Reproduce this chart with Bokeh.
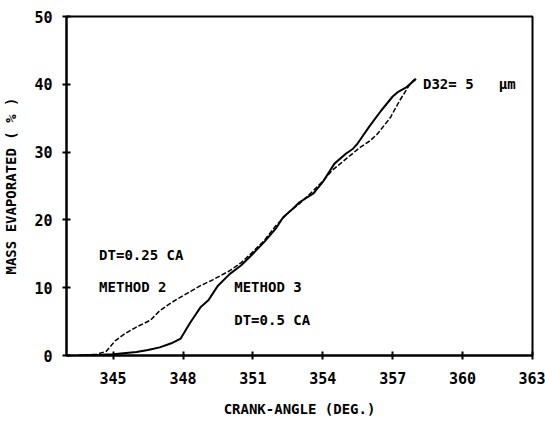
from bokeh.plotting import figure
from bokeh.models import Range1d, FixedTicker, Label
from bokeh.embed import file_html
from bokeh.resources import INLINE

# Method 3 (DT=0.5 CA), solid
m3_x = [343.5, 344.5, 345.0, 346.0, 346.5, 347.0, 347.5, 347.9, 348.3, 348.75, 349.1, 349.5,
        350.0, 350.5, 351.0, 351.5, 352.0, 352.3, 352.7, 353.0, 353.6, 354.0, 354.5, 355.0,
        355.3, 355.5, 356.0, 356.5, 357.0, 357.2, 357.6, 358.0]
m3_y = [0.0, 0.1, 0.2, 0.5, 0.8, 1.2, 1.8, 2.5, 4.8, 7.1, 8.2, 10.3,
        12.0, 13.3, 15.0, 16.8, 18.8, 20.4, 21.6, 22.6, 23.9, 25.6, 28.3, 29.8,
        30.5, 31.3, 33.8, 36.1, 38.2, 38.8, 39.6, 40.8]

# Method 2 (DT=0.25 CA), dashed
m2_x = [343.5, 344.3, 344.7, 345.1, 345.5, 346.0, 346.6, 347.0, 347.5, 347.9, 348.3, 348.75,
        349.3, 350.0, 350.5, 351.0, 351.5, 352.0, 352.5, 353.0, 353.5, 354.0, 354.4, 355.0,
        355.6, 356.0, 356.35, 356.9, 357.3, 357.7, 358.0]
m2_y = [0.0, 0.2, 0.6, 2.2, 3.2, 4.2, 5.2, 6.6, 7.8, 8.6, 9.4, 10.3,
        11.2, 12.5, 13.7, 15.3, 17.0, 19.2, 21.0, 22.4, 24.0, 25.7, 27.3, 29.0,
        30.7, 31.6, 32.7, 35.1, 37.6, 39.8, 41.0]

x_ticks = [345, 348, 351, 354, 357, 360, 363]
y_ticks = [0, 10, 20, 30, 40, 50]

FONT = "DejaVu Sans Mono"

p = figure(width=545, height=425, output_backend="svg", toolbar_location=None,
           x_range=Range1d(343, 363), y_range=Range1d(0, 50),
           min_border_left=66, min_border_right=13, min_border_top=16, min_border_bottom=70)
p.xgrid.visible = False
p.ygrid.visible = False
p.outline_line_color = "black"
p.outline_line_width = 2

for ax in (p.xaxis[0], p.yaxis[0]):
    ax.axis_line_width = 2
    ax.major_tick_line_width = 2
    ax.major_tick_in = 4
    ax.major_tick_out = 4
    ax.minor_tick_line_color = None
    ax.major_label_text_font = FONT
    ax.major_label_text_font_style = "bold"
    ax.major_label_text_font_size = "15px"
    ax.major_label_text_color = "black"
    ax.axis_label_text_font = FONT
    ax.axis_label_text_font_style = "bold"
    ax.axis_label_text_font_size = "14px"
    ax.axis_label_text_color = "black"

p.xaxis.ticker = FixedTicker(ticks=x_ticks)
p.yaxis.ticker = FixedTicker(ticks=y_ticks)
p.xaxis.major_label_standoff = 12
p.yaxis.major_label_standoff = 10
p.xaxis.axis_label = "CRANK-ANGLE (DEG.)"
p.yaxis.axis_label = "MASS EVAPORATED ( % )"
p.xaxis.axis_label_standoff = 14
p.yaxis.axis_label_standoff = 12

p.line(m3_x, m3_y, line_color="black", line_width=2)
p.line(m2_x, m2_y, line_color="black", line_width=1.5, line_dash="5 2")

labels = [
    (344.4, 14.8, "DT=0.25 CA"),
    (344.4, 10.1, "METHOD 2"),
    (350.2, 10.1, "METHOD 3"),
    (350.2, 5.2, "DT=0.5 CA"),
    (358.3, 40.0, "D32=\u00a05\u00a0\u00a0\u00a0μm"),
]
for x, y, t in labels:
    p.add_layout(Label(x=x, y=y, text=t, text_font=FONT, text_font_style="bold",
                       text_font_size="14px", text_color="black",
                       text_baseline="middle", text_align="left"))

open("out.html", "w").write(file_html(p, INLINE))
